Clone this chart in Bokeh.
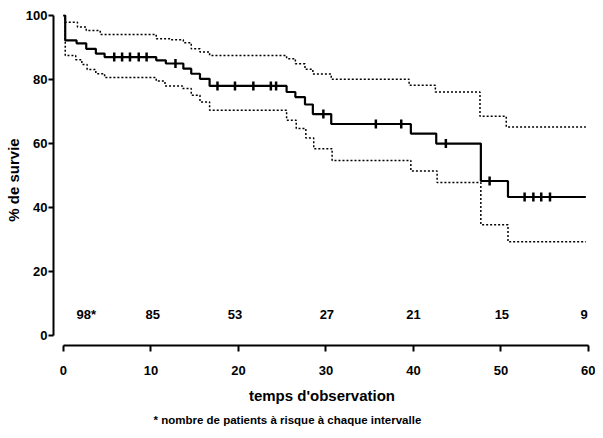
import numpy as np
from bokeh.plotting import figure
from bokeh.models import Range1d, Title, FixedTicker
from bokeh.core.properties import value
from bokeh.embed import file_html
from bokeh.resources import INLINE

# Kaplan-Meier survival estimate (step after), % survival vs time
km_t = [0, 0.2, 1.5, 2.6, 3.7, 4.7, 10.6, 11.7, 13.7, 14.6, 15.6, 16.7, 25.5, 26.5,
        27.6, 28.5, 30.6, 39.7, 42.6, 47.7, 50.8, 59.7]
km_s = [100, 92.2, 91.3, 89.6, 88.1, 87.0, 86.0, 85.0, 83.4, 81.8, 80.2, 78.0, 76.1, 74.5,
        72.2, 69.2, 66.1, 63.1, 60.0, 48.3, 43.3, 43.3]

# upper confidence limit
up_t = [0, 0.2, 1.6, 2.6, 4.2, 10.6, 12.2, 13.7, 14.6, 15.6, 16.7, 25.5, 26.5, 27.6,
        28.5, 30.6, 39.5, 42.5, 47.6, 50.6, 59.7]
up_s = [100, 97.9, 96.4, 95.3, 94.1, 92.7, 92.4, 91.5, 89.6, 88.6, 87.5, 86.5, 84.9, 83.2,
        81.7, 80.1, 78.2, 76.1, 68.5, 65.2, 65.2]

# lower confidence limit
lo_t = [0, 0.2, 1.4, 2.1, 2.7, 3.7, 4.7, 10.6, 11.6, 13.6, 14.6, 15.6, 16.7, 25.5, 26.6,
        27.7, 28.6, 30.7, 39.7, 42.7, 47.7, 50.8, 59.7]
lo_s = [100, 87.5, 86.2, 84.7, 83.1, 81.8, 80.6, 79.5, 78.0, 77.2, 75.1, 73.0, 70.4, 67.3, 64.7,
        61.7, 58.4, 54.7, 51.4, 47.8, 34.6, 29.3, 29.3]

# censored observations
cens_t = [5.8, 6.7, 7.6, 8.6, 9.5, 12.8, 17.6, 19.6, 21.7, 23.7, 24.3, 29.7, 35.7, 38.6,
          43.7, 48.7, 52.7, 53.7, 54.6, 55.6]
cens_s = [87.0, 87.0, 87.0, 87.0, 87.0, 85.0, 78.0, 78.0, 78.0, 78.0, 78.0, 69.2, 66.1, 66.1,
          60.0, 48.3, 43.3, 43.3, 43.3, 43.3]

# patients at risk
risk_t = [2.6, 10.2, 19.6, 30.1, 40.0, 50.1, 59.5]
risk_n = ["98*", "85", "53", "27", "21", "15", "9"]
risk_y = 6.5

x_ticks = [0, 10, 20, 30, 40, 50, 60]
y_ticks = [0, 20, 40, 60, 80, 100]

FONT = "Liberation Sans"

p = figure(width=595, height=430, output_backend="svg", toolbar_location=None,
           x_range=Range1d(-1.14, 60.23), y_range=Range1d(-3.1, 100.31),
           min_border_left=53, min_border_right=5, min_border_top=14, min_border_bottom=85)
p.outline_line_color = None
p.grid.visible = False

p.step(up_t, up_s, mode="after", line_color="black", line_width=1.5, line_dash="2 2")
p.step(lo_t, lo_s, mode="after", line_color="black", line_width=1.5, line_dash="2 2")
p.step(km_t, km_s, mode="after", line_color="black", line_width=2.2)
p.scatter(cens_t, cens_s, marker="dash", angle=np.pi / 2, size=9,
          line_color="black", line_width=2.5)

p.text(risk_t, [risk_y] * len(risk_t), text=risk_n, text_align="center",
       text_baseline="middle", text_font=value(FONT), text_font_style="bold",
       text_font_size="13px", text_color="black")

for ax, ticks, bounds in ((p.xaxis[0], x_ticks, (0, 60)), (p.yaxis[0], y_ticks, (0, 100))):
    ax.ticker = FixedTicker(ticks=ticks)
    ax.bounds = bounds
    ax.axis_line_width = 2
    ax.axis_line_color = "black"
    ax.major_tick_line_width = 2
    ax.major_tick_line_color = "black"
    ax.major_tick_in = 0
    ax.minor_tick_line_color = None
    ax.major_label_text_font = FONT
    ax.major_label_text_font_style = "bold"
    ax.major_label_text_font_size = "13px"
    ax.major_label_text_color = "black"
    ax.axis_label_text_font = FONT
    ax.axis_label_text_font_style = "bold"
    ax.axis_label_text_font_size = "15px"
    ax.axis_label_text_color = "black"

p.xaxis.axis_label = "temps d'observation"
p.xaxis.major_tick_out = 6
p.xaxis.major_label_standoff = 14
p.xaxis.axis_label_standoff = 9
p.yaxis.axis_label = "% de survie"
p.yaxis.major_tick_out = 5
p.yaxis.major_label_standoff = 1
p.yaxis.axis_label_standoff = 1

foot = Title(text="* nombre de patients à risque à chaque intervalle", align="left",
             offset=100, text_font=FONT, text_font_style="bold", text_font_size="11.5px",
             text_color="black")
p.add_layout(foot, "below")

open("out.html", "w").write(file_html(p, INLINE))
